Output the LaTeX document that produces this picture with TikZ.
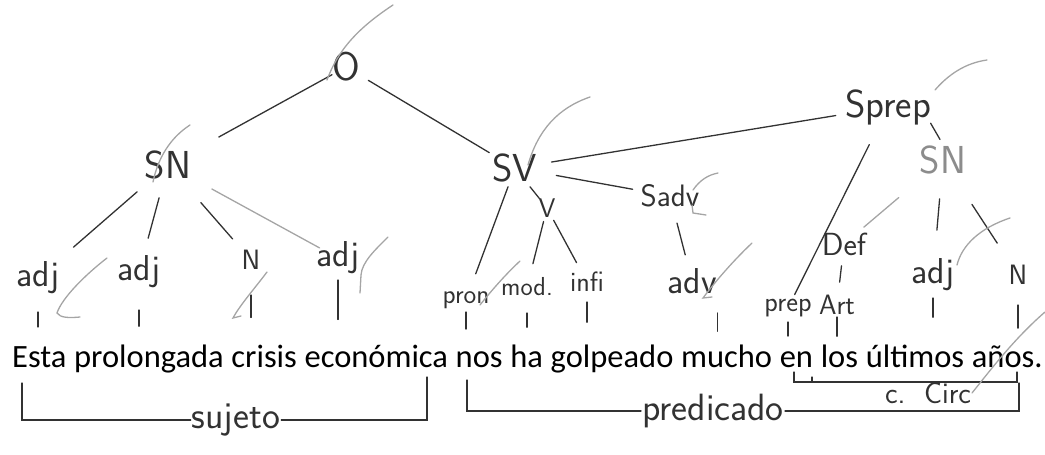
\documentclass[tikz,border=0pt]{standalone}
\usepackage{fontspec}
\newfontfamily\sentfont{Carlito}
\usetikzlibrary{positioning}

\definecolor{pencil}{RGB}{50,50,50}
\definecolor{faintgray}{RGB}{165,165,165}

\tikzset{
  word/.style={font=\sentfont\fontsize{32.5}{32.5}\selectfont, inner sep=0pt},
  hand/.style={font=\sffamily\fontsize{#1}{#1}\selectfont, text=pencil, inner sep=1pt},
  hand/.default=36,
  branch/.style={draw=pencil, line width=1.3pt, line cap=round},
  faint/.style={draw=faintgray, line width=1.3pt, line cap=round},
}

\begin{document}
\begin{tikzpicture}[x=1pt, y=-1pt]
    \useasboundingbox (0,0) rectangle (1045,455);
    % Sentence
    \node[word, anchor=base west] (esta) at (12,367) {Esta};
    \node[word, base right=7.3pt of esta] (prolongada) {prolongada};
    \node[word, base right=7.3pt of prolongada] (crisis) {crisis};
    \node[word, base right=7.3pt of crisis] (economica) {económica};
    \node[word, base right=7.3pt of economica] (nos) {nos};
    \node[word, base right=7.3pt of nos] (ha) {ha};
    \node[word, base right=7.3pt of ha] (golpeado) {golpeado};
    \node[word, base right=7.3pt of golpeado] (mucho) {mucho};
    \node[word, base right=7.3pt of mucho] (en) {en};
    \node[word, base right=7.3pt of en] (los) {los};
    \node[word, base right=7.3pt of los] (ultimos) {últimos};
    \node[word, base right=7.3pt of ultimos] (anos) {años.};
    % Phrases
    \node[hand=40] (O) at (346,67) {O};
    \node[hand=39] (SN1) at (168,165) {SN};
    \node[hand=39] (SV) at (515,168) {SV};
    \node[hand=39] (Sprep) at (888,107) {Sprep};
    \node[hand=39, text=black!45] (SN2) at (943,160) {SN};
    \node[hand=31] (Sadv) at (670,196) {Sadv};
    \node[hand=27] (V) at (547,208) {V};
    % Word classes
    \node[hand] (adj1) at (38,278) {adj};
    \node[hand] (adj2) at (139,272) {adj};
    \node[hand=28] (N1) at (251,260) {N};
    \node[hand] (adj3) at (338,258) {adj};
    \node[hand=27] (pron) at (466,300) {pron};
    \node[hand=26] (mod) at (527,287) {mod.};
    \node[hand=28] (infi) at (587,282) {infi};
    \node[hand] (adv) at (692,281) {adv};
    \node[hand=32] (Def) at (844,244) {Def};
    \node[hand=28] (prep) at (788,308) {prep};
    \node[hand=28] (Art) at (837,305) {Art};
    \node[hand] (adj4) at (933,275) {adj};
    \node[hand=28] (N2) at (1018,275) {N};
    % Branches
    \draw[branch, shorten <=16pt, shorten >=58pt] (O.center) -- (SN1.center);
    \draw[branch, shorten <=26pt, shorten >=30pt] (O.center) -- (SV.center);
    \draw[branch, shorten <=41pt, shorten >=47pt] (SN1.center) -- (adj1.center);
    \draw[branch, shorten <=34pt, shorten >=35pt] (SN1.center) -- (adj2.center);
    \draw[branch, shorten <=50pt, shorten >=28pt] (SN1.center) -- (N1.center);
    \draw[faint, shorten <=50pt, shorten >=21pt] (SN1.center) -- (adj3.center);
    \draw[branch, shorten <=37pt, shorten >=53pt] (SV.center) -- (Sprep.center);
    \draw[branch, shorten <=42pt, shorten >=38pt] (SV.center) -- (Sadv.center);
    \draw[branch, shorten <=24pt, shorten >=12pt] (SV.center) -- (V.center);
    \draw[branch, shorten <=20pt, shorten >=28pt] (SV.center) -- (pron.center);
    \draw[branch, shorten <=14pt, shorten >=24pt] (V.center) -- (mod.center);
    \draw[branch, shorten <=14pt, shorten >=22pt] (V.center) -- (infi.center);
    \draw[branch, shorten <=28pt, shorten >=27pt] (Sadv.center) -- (adv.center);
    \draw[branch, shorten <=-3pt, shorten >=6pt] (Sprep.south east) -- (SN2.north);
    \draw[branch, shorten <=42pt, shorten >=15pt] (Sprep.center) -- (prep.center);
    \draw[faint, shorten <=58pt, shorten >=26pt] (SN2.center) -- (Def.center);
    \draw[branch, shorten <=39pt, shorten >=45pt] (SN2.center) -- (adj4.center);
    \draw[branch, shorten <=53pt, shorten >=38pt] (SN2.center) -- (N2.center);
    \draw[branch, shorten <=22pt, shorten >=23pt] (Def.center) -- (Art.center);
    % Ticks down to the words
    \draw[branch, shorten <=34pt, shorten >=19pt] (adj1.center) -- (adj1.center |- esta.north);
    \draw[branch, shorten <=38pt, shorten >=18pt] (adj2.center) -- (adj2.center |- prolongada.north);
    \draw[branch, shorten <=35pt, shorten >=27pt] (N1.center) -- (N1.center |- crisis.north);
    \draw[branch, shorten <=22pt, shorten >=25pt] (adj3.center) -- (adj3.center |- economica.north);
    \draw[branch, shorten <=12pt, shorten >=22pt] (pron.center) -- (pron.center |- nos.north);
    \draw[branch, shorten <=26pt, shorten >=17pt] (mod.center) -- (mod.center |- ha.north);
    \draw[branch, shorten <=20pt, shorten >=22pt] (infi.center) -- (infi.center |- golpeado.north);
    \draw[branch, shorten <=32pt, shorten >=13pt] (adv.east) -- (adv.east |- mucho.north);
    \draw[branch, shorten <=14pt, shorten >=15pt] (prep.center) -- (prep.center |- en.north);
    \draw[branch, shorten <=12pt, shorten >=8pt] (Art.center) -- (Art.center |- los.north);
    \draw[branch, shorten <=23pt, shorten >=27pt] (adj4.center) -- (adj4.center |- ultimos.north);
    \draw[branch, shorten <=30pt, shorten >=17pt] (N2.center) -- (N2.center |- anos.north);
    % Sujeto / predicado / c. circ
    \node[hand=38] (sujeto) at (236,420) {sujeto};
    \node[hand=38] (predicado) at (713,411) {predicado};
    \node[hand=30] (ccirc) at (928,393) {c.\ \ Circ};
    \coordinate (sjL) at (22,383);
    \coordinate (sjR) at (427,377);
    \coordinate (pdL) at (467,380);
    \coordinate (pdR) at (1019,383);
    \coordinate (ccL) at (794,372);
    \coordinate (ccR) at (1017,372);
    \draw[branch] (sjL) |- (sujeto.west);
    \draw[branch] (sujeto.east) -| (sjR);
    \draw[branch] (pdL) |- (predicado.west);
    \draw[branch] (predicado.east) -| (pdR);
    \draw[branch] (ccL) -- ++(0,10) -| (ccR);
    \draw[branch] (ccL) ++(18,5) -- ++(0,5);
    % Pencil marks
    \draw[faint] (327,80) .. controls (338,50) and (358,28) .. (393,5);
    \draw[faint] (153,182) .. controls (158,158) and (170,138) .. (190,125);
    \draw[faint] (107,258) .. controls (85,275) and (62,298) .. (57,313) .. controls (60,318) and (70,318) .. (80,317);
    \draw[faint] (267,272) .. controls (255,288) and (240,305) .. (233,318) -- (241,316);
    \draw[faint] (388,237) .. controls (375,250) and (362,262) .. (361,275) -- (360,293);
    \draw[faint] (480,305) .. controls (492,290) and (505,275) .. (520,261);
    \draw[faint] (528,165) .. controls (538,130) and (558,108) .. (590,97);
    \draw[faint] (693,190) .. controls (700,180) and (708,175) .. (718,173);
    \draw[faint] (692,205) -- (693,213) -- (706,215);
    \draw[faint] (712,297) -- (703,298) .. controls (715,282) and (732,262) .. (752,243);
    \draw[faint] (935,90) .. controls (948,75) and (965,63) .. (987,60);
    \draw[faint] (957,265) .. controls (962,245) and (980,228) .. (1010,218);
    \draw[faint] (972,393) .. controls (992,368) and (1015,338) .. (1045,312);
\end{tikzpicture}
\end{document}
